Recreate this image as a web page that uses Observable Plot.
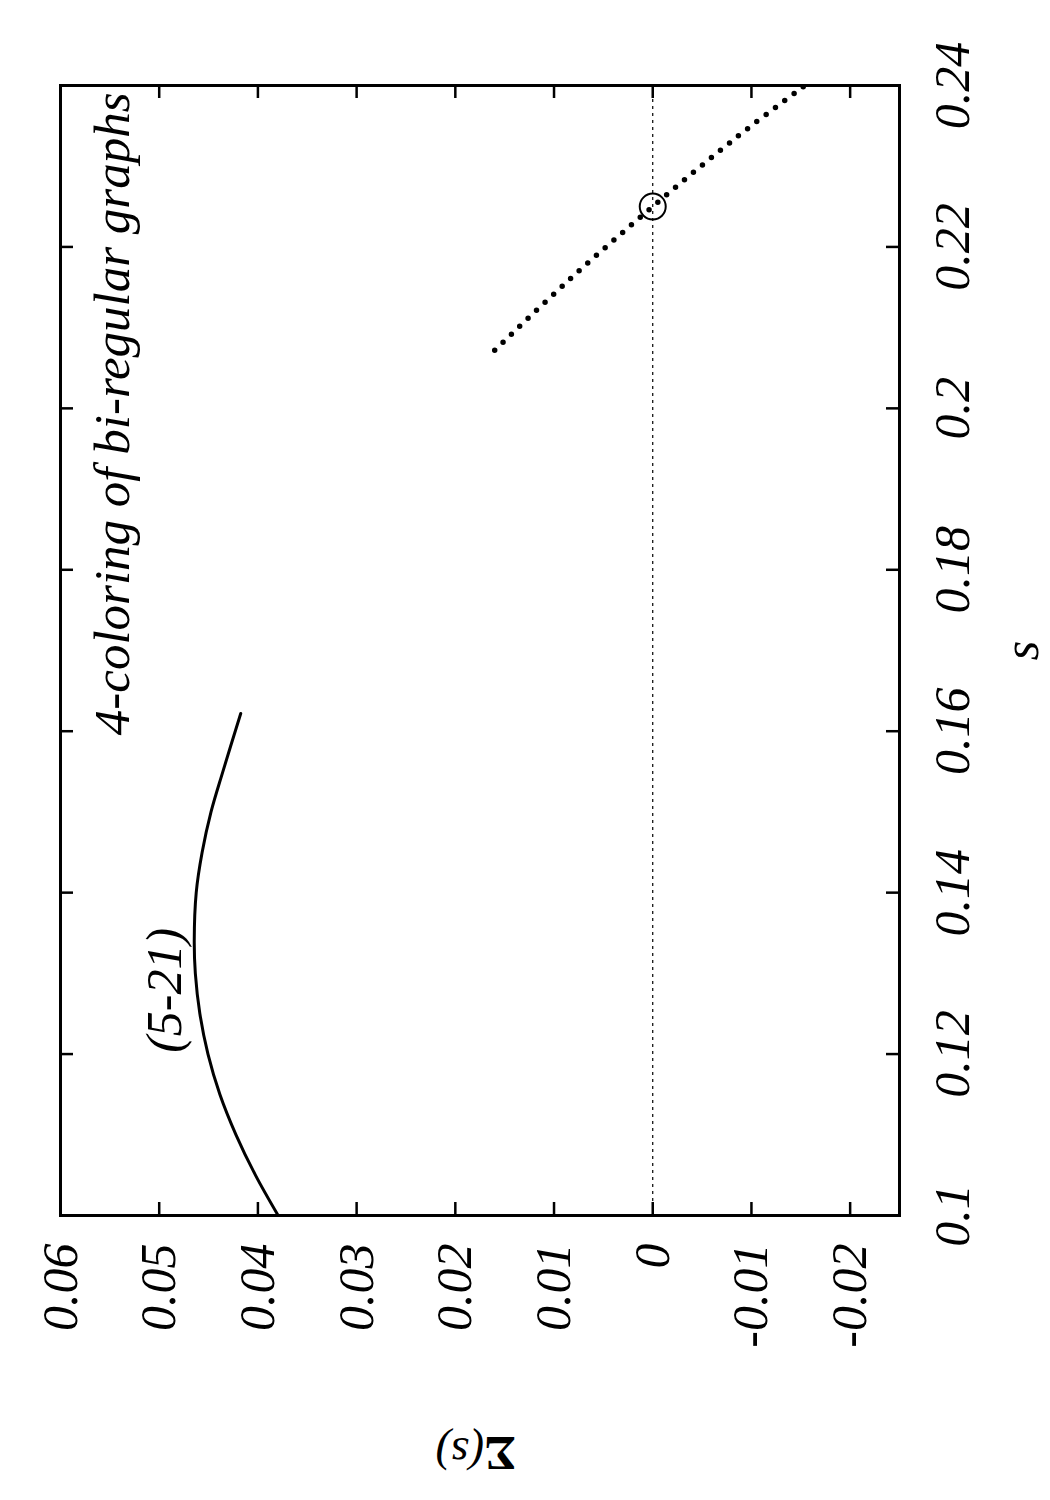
<!DOCTYPE html>
<html>
<head>
<meta charset="utf-8">
<script src="https://cdn.jsdelivr.net/npm/d3@7"></script>
<script src="https://cdn.jsdelivr.net/npm/@observablehq/plot@0.6"></script>
<style>
  html, body { margin: 0; padding: 0; background: #fff; }
  #chart { width: 1050px; height: 1500px; }
  #chart svg, #chart svg text { font-family: "Liberation Serif", "Times New Roman", serif; }
</style>
</head>
<body>
<div id="chart"></div>
<script>
// Σ(s) axis (drawn horizontally, decreasing to the right)
const sigmaTicks = [0.06, 0.05, 0.04, 0.03, 0.02, 0.01, 0, -0.01, -0.02];
const sigmaTickLabels = ["0.06", "0.05", "0.04", "0.03", "0.02", "0.01", "0", "-0.01", "-0.02"];
// s axis (drawn vertically, increasing upward)
const sTicks = [0.1, 0.12, 0.14, 0.16, 0.18, 0.2, 0.22, 0.24];
const sTickLabels = ["0.1", "0.12", "0.14", "0.16", "0.18", "0.2", "0.22", "0.24"];

// solid curve (5-21)
const curveS     = [0.100, 0.105, 0.110, 0.115, 0.120, 0.125, 0.130, 0.134, 0.140, 0.145, 0.150, 0.155, 0.1622];
const curveSigma = [0.03795, 0.04025, 0.04222, 0.04385, 0.04506, 0.04588, 0.04634, 0.04645, 0.04625, 0.04565, 0.04475, 0.04355, 0.04174];

// dotted branch
const dotS     = [0.2072, 0.2161, 0.2250, 0.2337, 0.2400];
const dotSigma = [0.01601, 0.00831, 0.0, -0.00861, -0.01540];

// marked zero crossing
const rootS = [0.225];
const rootSigma = [0];

const titleText = "4-coloring of bi-regular graphs";
const curveLabel = "(5-21)";
const curveLabelS = 0.1279;
const curveLabelSigma = 0.0494;

const curveData = curveS.map((s, i) => ({s, sigma: curveSigma[i]}));
const dotData = dotS.map((s, i) => ({s, sigma: dotSigma[i]}));
const rootData = rootS.map((s, i) => ({s, sigma: rootSigma[i]}));

const W = 1050, H = 1500, mL = 60, mR = 151, mT = 85, mB = 285;
const plotW = W - mL - mR, plotH = H - mT - mB;
const tickLen = 13;
const FS = 50;
const FF = "'Liberation Serif', 'Times New Roman', serif";

const chart = Plot.plot({
  width: W,
  height: H,
  marginLeft: mL,
  marginRight: mR,
  marginTop: mT,
  marginBottom: mB,
  x: {domain: [0.06, -0.025], axis: null},
  y: {domain: [0.1, 0.24], axis: null},
  style: "font-family: 'Liberation Serif', 'Times New Roman', serif; background: white; color: black;",
  marks: [
    // zero reference line
    Plot.ruleX([0], {stroke: "black", strokeWidth: 1.2, strokeDasharray: "3,4"}),
    // ticks on Σ axis: bottom and mirrored top
    Plot.ruleX(sigmaTicks, {x: d => d, insetTop: plotH - tickLen, stroke: "black", strokeWidth: 2.5}),
    Plot.ruleX(sigmaTicks, {x: d => d, insetBottom: plotH - tickLen, stroke: "black", strokeWidth: 2.5}),
    // ticks on s axis: right and mirrored left
    Plot.ruleY(sTicks, {y: d => d, insetLeft: plotW - tickLen, stroke: "black", strokeWidth: 2.5}),
    Plot.ruleY(sTicks, {y: d => d, insetRight: plotW - tickLen, stroke: "black", strokeWidth: 2.5}),
    // data
    Plot.line(curveData, {x: "sigma", y: "s", curve: "catmull-rom", stroke: "black", strokeWidth: 3}),
    Plot.line(dotData, {x: "sigma", y: "s", curve: "catmull-rom", stroke: "black", strokeWidth: 5.5,
      strokeLinecap: "round", strokeDasharray: "0,11.6"}),
    Plot.dot(rootData, {x: "sigma", y: "s", r: 13, stroke: "black", strokeWidth: 2, fill: "none"}),
    // frame
    Plot.frame({stroke: "black", strokeWidth: 3}),
    // tick labels Σ
    Plot.text(sigmaTicks, {x: d => d, text: (d, i) => sigmaTickLabels[i], frameAnchor: "bottom",
      dy: 28, rotate: -90, textAnchor: "end", lineAnchor: "middle", fontSize: FS, fontStyle: "italic",
      fontFamily: FF, fill: "black"}),
    // tick labels s
    Plot.text(sTicks, {y: d => d, text: (d, i) => sTickLabels[i], frameAnchor: "right",
      dx: 53, rotate: -90, textAnchor: "middle", lineAnchor: "middle", fontSize: FS, fontStyle: "italic",
      fontFamily: FF, fill: "black"}),
    // axis labels
    Plot.text(["s"], {text: d => d, frameAnchor: "right", dx: 122, rotate: -90, textAnchor: "middle",
      lineAnchor: "middle", fontSize: FS, fontStyle: "italic", fontFamily: FF, fill: "black"}),
    Plot.text(["Σ"], {text: d => d, frameAnchor: "bottom", dx: 20, dy: 237, rotate: 180, textAnchor: "middle",
      lineAnchor: "middle", fontSize: 48, fontWeight: "bold", fontFamily: FF, fill: "black"}),
    Plot.text(["(s)"], {text: d => d, frameAnchor: "bottom", dx: -20, dy: 237, rotate: 180, textAnchor: "middle",
      lineAnchor: "middle", fontSize: 46, fontStyle: "italic", fontFamily: FF, fill: "black"}),
    // title inside frame
    Plot.text([titleText], {text: d => d, frameAnchor: "top-left", dx: 52, dy: 7, rotate: -90,
      textAnchor: "end", lineAnchor: "middle", fontSize: 51, fontStyle: "italic", fontFamily: FF, fill: "black"}),
    // curve label
    Plot.text([curveLabel], {x: () => curveLabelSigma, y: () => curveLabelS, text: d => d, rotate: -90,
      textAnchor: "middle", lineAnchor: "middle", fontSize: FS, fontStyle: "italic", fontFamily: FF, fill: "black"})
  ]
});
document.getElementById("chart").appendChild(chart);
</script>
</body>
</html>
